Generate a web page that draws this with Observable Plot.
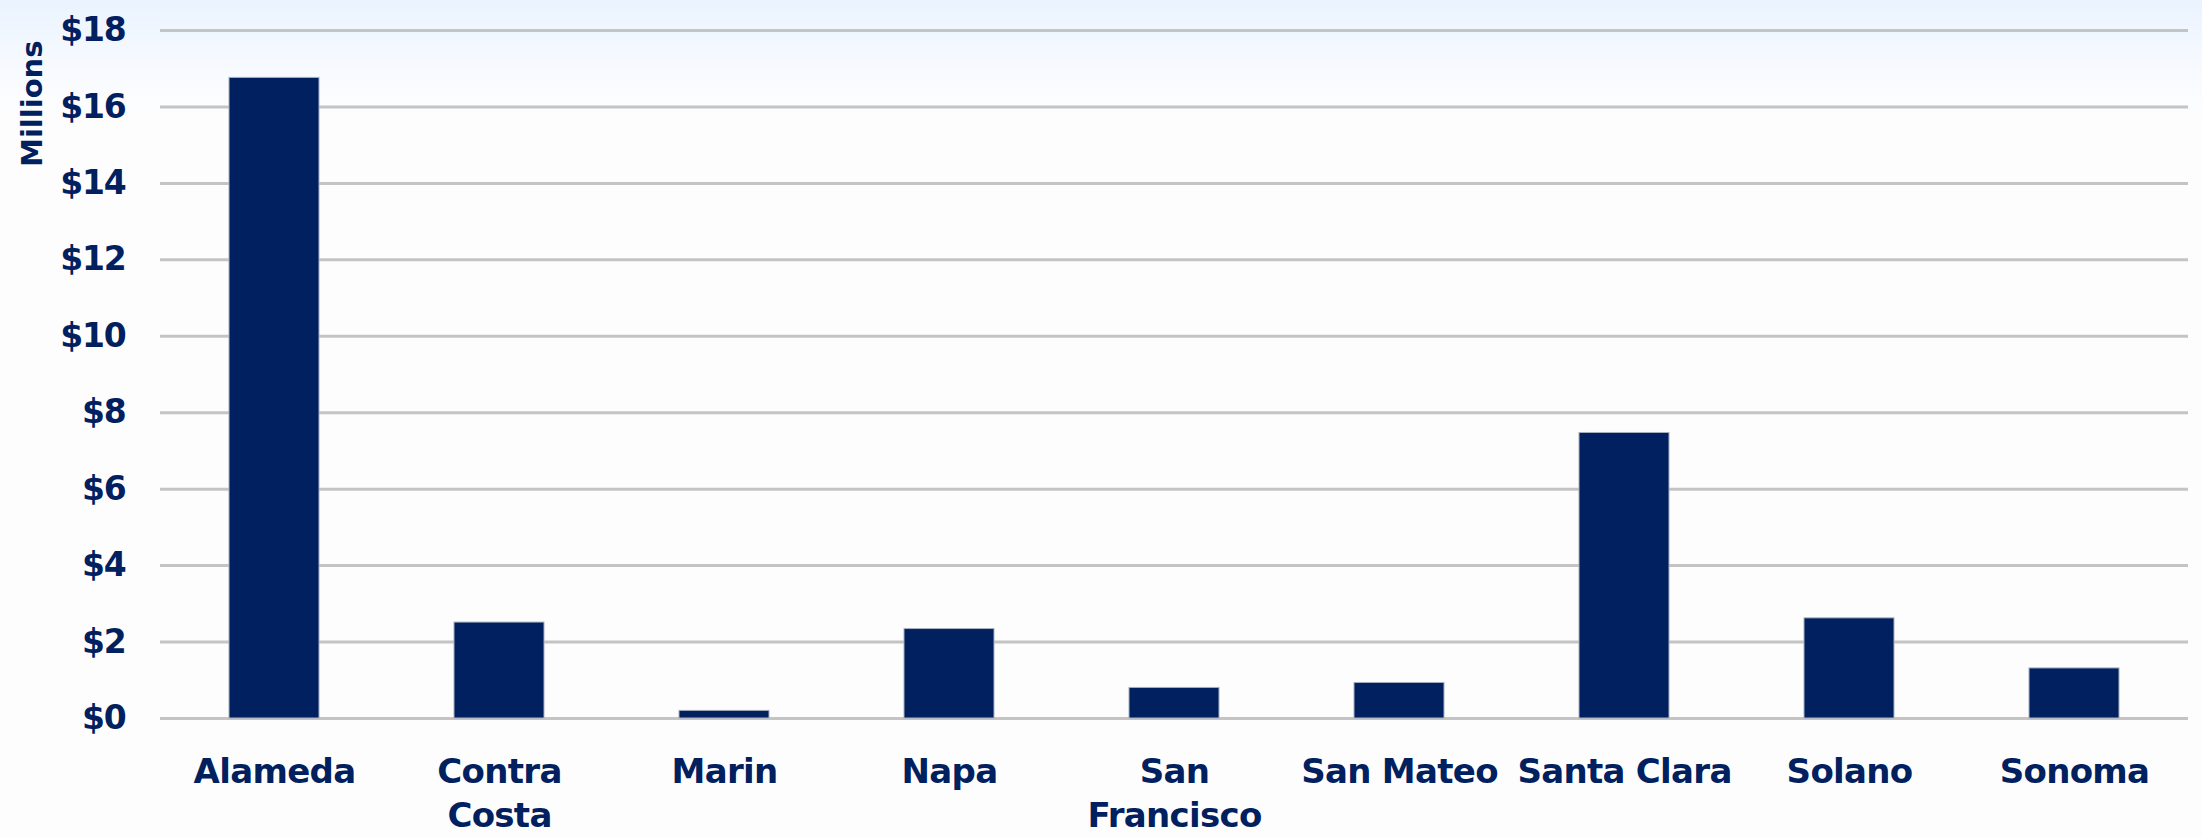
<!DOCTYPE html>
<html>
<head>
<meta charset="utf-8">
<script src="https://cdn.jsdelivr.net/npm/d3@7"></script>
<script src="https://cdn.jsdelivr.net/npm/@observablehq/plot@0.6"></script>
<style>
  html, body { margin: 0; padding: 0; }
  body {
    width: 2202px; height: 837px; overflow: hidden;
    background: linear-gradient(to bottom, #eaf3fe 0px, #f3f8ff 45px, #fbfcfe 95px, #fdfdfd 130px, #fdfdfd 100%);
  }
  #chart svg { display: block; }
  #chart g[aria-label="x-axis tick label"] text { letter-spacing: -0.7px; }
  #chart g[aria-label="y-axis tick label"] text { letter-spacing: -1.2px; }
</style>
</head>
<body>
<div id="chart"></div>
<script>
const counties = ["Alameda", "Contra Costa", "Marin", "Napa", "San Francisco", "San Mateo", "Santa Clara", "Solano", "Sonoma"];
const values = [16.76, 2.51, 0.2, 2.34, 0.80, 0.93, 7.47, 2.62, 1.31];
const countyLabels = ["Alameda", "Contra\nCosta", "Marin", "Napa", "San\nFrancisco", "San Mateo", "Santa Clara", "Solano", "Sonoma"];
const yTicks = [0, 2, 4, 6, 8, 10, 12, 14, 16, 18];
const yTitle = ["Millions"];

const navy = "#002060";
const font = "'DejaVu Sans', sans-serif";
const data = counties.map((c, i) => ({county: c, value: values[i]}));
const labelOf = new Map(counties.map((c, i) => [c, countyLabels[i]]));

const chart = Plot.plot({
  width: 2202,
  height: 837,
  marginLeft: 160,
  marginRight: 14,
  marginTop: 30,
  marginBottom: 119,
  style: {background: "transparent", fontFamily: font, color: navy},
  x: {domain: counties, paddingInner: 0.6, paddingOuter: 0.3, label: null},
  y: {domain: [0, 18], label: null},
  marks: [
    Plot.ruleY(yTicks, {stroke: "#c4c4c4", strokeWidth: 3}),
    Plot.barY(data, {x: "county", y: "value", fill: navy, stroke: "#a9b0bf", strokeWidth: 1}),
    Plot.axisY({
      ticks: yTicks, tickSize: 0, tickPadding: 35,
      tickFormat: d => "$" + d,
      fontSize: 33, fontWeight: "bold", fill: navy, label: null
    }),
    Plot.axisX({
      tickSize: 0, tickPadding: 34, lineAnchor: "top", lineHeight: 1.28,
      tickFormat: d => labelOf.get(d),
      fontSize: 34, fontWeight: "bold", fill: navy, label: null
    }),
    Plot.text(yTitle, {
      text: d => d, frameAnchor: "top-left", rotate: -90,
      textAnchor: "end", lineAnchor: "middle",
      dx: -128, dy: 10,
      fontSize: 29, fontWeight: "bold", fill: navy
    })
  ]
});
document.getElementById("chart").appendChild(chart);
</script>
</body>
</html>
